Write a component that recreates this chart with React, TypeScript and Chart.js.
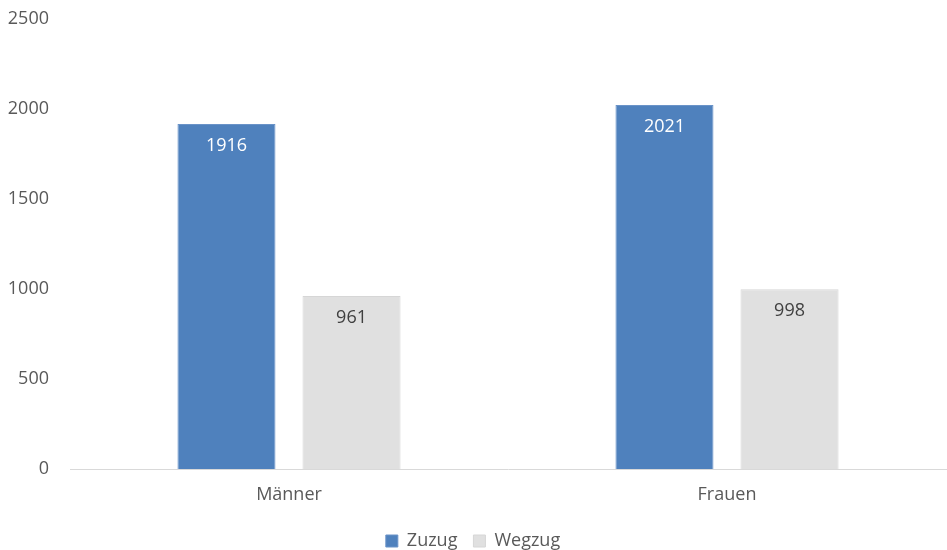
import React, { useEffect, useRef } from "react";
import { Chart, registerables } from "chart.js";

Chart.register(...registerables);

const categories = ["Männer", "Frauen"];
const zuzug = [1916, 2021];
const wegzug = [961, 998];
const seriesNames = ["Zuzug", "Wegzug"];
const yTicks = [0, 500, 1000, 1500, 2000, 2500];

const FONT = "'Open Sans', 'Noto Sans', sans-serif";

const valueLabels = {
  id: "valueLabels",
  afterDatasetsDraw(chart: any) {
    const ctx = chart.ctx;
    ctx.save();
    ctx.font = `18px ${FONT}`;
    ctx.textAlign = "center";
    ctx.textBaseline = "middle";
    chart.data.datasets.forEach((ds: any, i: number) => {
      const meta = chart.getDatasetMeta(i);
      meta.data.forEach((bar: any, j: number) => {
        ctx.fillStyle = i === 0 ? "#FFFFFF" : "#404040";
        ctx.fillText(String(ds.data[j]), bar.x, bar.y + 22);
      });
    });
    ctx.restore();
  },
};

export default function App() {
  const ref = useRef<HTMLCanvasElement>(null);
  useEffect(() => {
    document.body.style.margin = "0";
    const chart = new Chart(ref.current!, {
      type: "bar",
      data: {
        labels: categories,
        datasets: [
          {
            label: seriesNames[0],
            data: zuzug,
            backgroundColor: "#4F81BD",
            borderColor: "#6A93C8",
            borderWidth: 1,
            categoryPercentage: 0.571,
            barPercentage: 0.784,
          },
          {
            label: seriesNames[1],
            data: wegzug,
            backgroundColor: "#E0E0E0",
            borderColor: "#D6D6D6",
            borderWidth: 1,
            categoryPercentage: 0.571,
            barPercentage: 0.784,
          },
        ],
      },
      options: {
        animation: false,
        responsive: false,
        maintainAspectRatio: false,
        layout: { padding: { top: 0, right: 1, left: 0, bottom: 0 } },
        plugins: {
          tooltip: { enabled: false },
          legend: {
            position: "bottom",
            labels: {
              boxWidth: 12,
              boxHeight: 12,
              padding: 16,
              color: "#595959",
              font: { family: FONT, size: 18 },
            },
          },
        },
        scales: {
          x: {
            afterFit: (axis: any) => {
              axis.height = 47;
            },
            grid: { display: false, drawTicks: false },
            border: { display: true, color: "#D9D9D9", width: 1 },
            ticks: {
              color: "#595959",
              font: { family: FONT, size: 18 },
              padding: 15,
            },
          },
          y: {
            min: 0,
            max: 2500,
            afterBuildTicks: (axis: any) => {
              axis.ticks = yTicks.map((v) => ({ value: v }));
            },
            afterFit: (axis: any) => {
              axis.width = 70;
            },
            grid: { display: false, drawTicks: false },
            border: { display: false },
            ticks: {
              color: "#595959",
              font: { family: FONT, size: 18 },
              padding: 21,
              callback: (v: any) => String(v),
            },
          },
        },
      },
      plugins: [valueLabels],
    });
    return () => chart.destroy();
  }, []);
  return (
    <div style={{ width: 947, height: 550, overflow: "hidden", position: "relative" }}>
      <canvas
        ref={ref}
        width={947}
        height={573}
        style={{ display: "block", position: "absolute", left: 0, top: -13 }}
      />
    </div>
  );
}
